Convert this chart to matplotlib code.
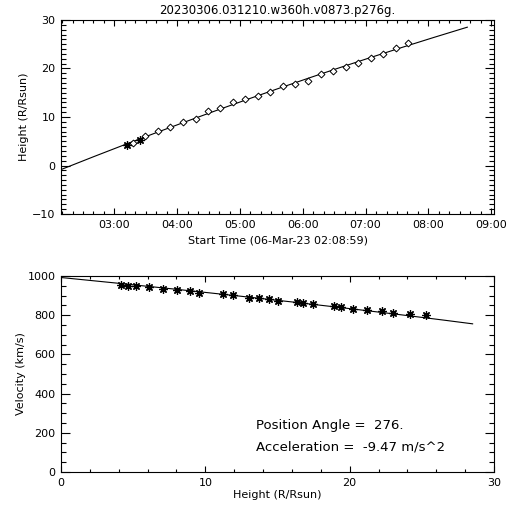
import numpy as np
import matplotlib
matplotlib.use("Agg")
import matplotlib.pyplot as plt
from matplotlib.ticker import MultipleLocator, FuncFormatter

# ---- data ----
times = ["03:12", "03:18", "03:24", "03:29", "03:42", "03:53", "04:06", "04:18",
         "04:29", "04:41", "04:53", "05:05", "05:17", "05:29", "05:41", "05:53",
         "06:05", "06:17", "06:29", "06:41", "06:53", "07:05", "07:17", "07:29",
         "07:41"]
heights = [4.16, 4.66, 5.20, 6.12, 7.09, 8.01, 8.94, 9.54, 11.2, 11.92, 13.05,
           13.74, 14.39, 15.06, 16.33, 16.79, 17.48, 18.92, 19.40, 20.26, 21.23,
           22.25, 23.03, 24.19, 25.27]
velocities = [954, 951, 949, 945, 934, 929, 923, 915, 908, 903, 889, 889, 884,
              872, 867, 864, 856, 847, 844, 832, 827, 821, 813, 808, 801]
star_idx = [0, 2]          # points drawn as asterisks in the top panel

title = "20230306.031210.w360h.v0873.p276g."
start_label = "Start Time (06-Mar-23 02:08:59)"
pos_angle = "276."
accel = "-9.47"

t_start = 2 + 8 / 60 + 59 / 3600
t_fit_end = 8.62

# ---- processing ----
t = np.array([int(s[:2]) + int(s[3:]) / 60 for s in times])
h = np.array(heights)
v = np.array(velocities)

# quadratic height-time fit, velocity from its derivative
coef = np.polyfit(t, h, 2)
tf = np.linspace(t_start, t_fit_end, 200)
hf = np.polyval(coef, tf)
vf = np.polyval(np.polyder(coef), tf) * 696000 / 3600

ast = (8, 2, 0)
plt.rcParams['font.family'] = 'DejaVu Sans'
plt.rcParams['font.size'] = 8

fig = plt.figure(figsize=(5.12, 5.12), dpi=100)
W = 512.0


def box(l, top, r, b):
    return [l / W, 1 - b / W, (r - l) / W, (b - top) / W]


def style(ax):
    ax.tick_params(which='both', direction='in', top=True, right=True,
                   width=0.8, labelsize=8, pad=4)
    ax.tick_params(axis='x', which='major', length=4)
    ax.tick_params(axis='x', which='minor', length=2.2)
    ax.tick_params(axis='y', which='major', length=6.5)
    ax.tick_params(axis='y', which='minor', length=3.3)
    for s in ax.spines.values():
        s.set_linewidth(0.8)


# top panel: height-time
ax1 = fig.add_axes(box(61, 20, 494, 214))
ax1.plot(tf, hf, color='black', lw=0.8)
diam = [i for i in range(len(t)) if i not in star_idx]
ax1.plot(t[diam], h[diam], 'D', ms=3.5, mfc='white', mec='black', mew=0.7, ls='none')
ax1.plot(t[star_idx], h[star_idx], marker=ast, ms=6, color='black', mew=0.9, ls='none')
ax1.set_xlim(t_start, 9.045)
ax1.set_ylim(-10, 30)
ax1.xaxis.set_major_locator(MultipleLocator(1))
ax1.xaxis.set_minor_locator(MultipleLocator(1 / 6))
ax1.yaxis.set_major_locator(MultipleLocator(10))
ax1.yaxis.set_minor_locator(MultipleLocator(1))
ax1.xaxis.set_major_formatter(FuncFormatter(lambda x, p: "%02d:00" % round(x)))
style(ax1)
ax1.set_xlabel(start_label, labelpad=4)
ax1.set_ylabel("Height (R/Rsun)", labelpad=2)
ax1.set_title(title, fontsize=8.5, pad=4)

# bottom panel: velocity-height
ax2 = fig.add_axes(box(61, 276, 494, 472))
ax2.plot(hf, vf, color='black', lw=0.8)
ax2.plot(h, v, marker=ast, ms=6, color='black', mew=0.9, ls='none')
ax2.set_xlim(0, 30)
ax2.set_ylim(0, 1000)
ax2.xaxis.set_major_locator(MultipleLocator(10))
ax2.xaxis.set_minor_locator(MultipleLocator(2))
ax2.yaxis.set_major_locator(MultipleLocator(200))
ax2.yaxis.set_minor_locator(MultipleLocator(50))
style(ax2)
ax2.set_xlabel("Height (R/Rsun)", labelpad=2)
ax2.set_ylabel("Velocity (km/s)", labelpad=1)

fig.text(256 / W, 1 - 426 / W, "Position Angle =  " + pos_angle,
         fontsize=9.5, va='center', ha='left')
fig.text(256 / W, 1 - 447 / W, "Acceleration =  " + accel + " m/s^2",
         fontsize=9.5, va='center', ha='left')

fig.savefig("out.png", dpi=100)
